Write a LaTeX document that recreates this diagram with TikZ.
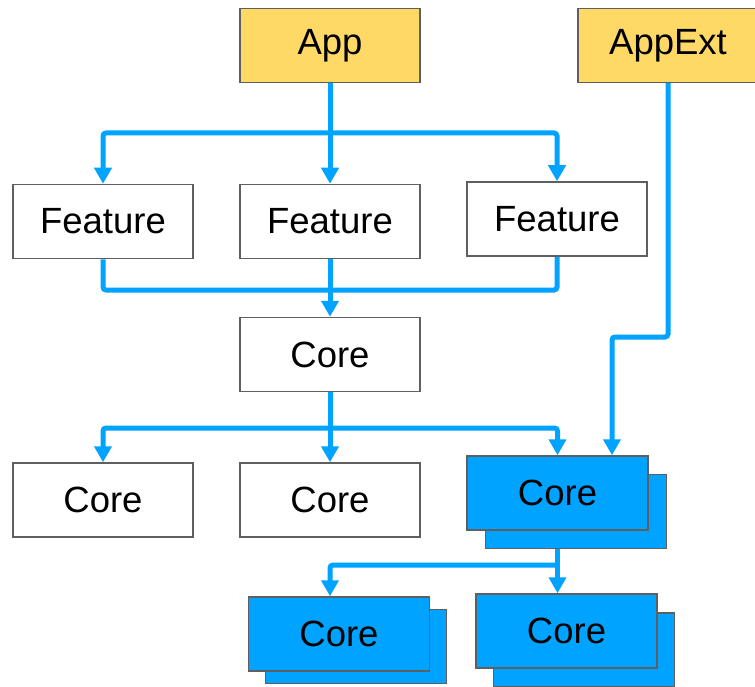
\documentclass[tikz,border=0pt]{standalone}
\usepackage{fontspec}
\setmainfont{Liberation Sans}
\usetikzlibrary{arrows.meta,backgrounds}
\definecolor{appyellow}{HTML}{FFD966}
\definecolor{linkblue}{HTML}{00A3FF}
\definecolor{edgegray}{HTML}{5F5F5F}
\tikzset{
  box/.style={draw=edgegray, line width=1.5pt, fill=white, minimum width=180pt,
    minimum height=74pt, inner sep=0pt, font=\fontsize{36.5}{40}\selectfont},
  appbox/.style={box, fill=appyellow},
  libbox/.style={box, fill=linkblue, minimum width=181pt},
  conn/.style={draw=linkblue, line width=5pt, rounded corners=3pt,
    -{Triangle[width=17pt,length=16pt]}},
  link/.style={draw=linkblue, line width=5pt, rounded corners=3pt}
}
\begin{document}
\begin{tikzpicture}[x=1pt,y=-1pt]
\useasboundingbox (0,0) rectangle (755,687);
\clip (0,0) rectangle (755,687);

% top level
\node[appbox] (app) at (330,45.5) {App};
\node[appbox] (appext) at (668,45.5) {AppExt};

% features
\node[box] (f1) at (103,221.5) {Feature};
\node[box] (f2) at (330,221.5) {Feature};
\node[box] (f3) at (557,219) {Feature};

% core
\node[box] (core) at (330,354.5) {Core};

% second level cores
\node[box] (cl) at (103,500) {Core};
\node[box] (cm) at (330,500) {Core};
\node[libbox] (ctback) at (576,511.5) {};
\node[libbox] (ct) at (557.5,493) {Core};

% bottom stacked cores
\node[libbox] (blback) at (356,646.5) {};
\node[libbox] (bl) at (339,634) {Core};
\node[libbox] (brback) at (584,650) {};
\node[libbox] (br) at (566.5,631) {Core};

% junction points
\coordinate (j1) at (330,133);
\coordinate (j2) at (330,290);
\coordinate (j3) at (330,428);
\coordinate (k1) at (612,337);
\coordinate (j4) at (557,565);
\coordinate (j5) at (330,565);

\begin{scope}[on background layer]
  \draw[conn] (app.south) -- (f2.north);
  \draw[conn] (j1) -| (f1.north);
  \draw[conn] (j1) -| (f3.north);

  \draw[link] (f1.south) |- (j2) -| (f3.south);
  \draw[conn] (f2.south) -- (core.north);

  \draw[conn] (core.south) -- (cm.north);
  \draw[conn] (j3) -| (cl.north);
  \draw[conn] (j3) -| (ct.north);

  \draw[conn] (appext.south) |- (k1) -- (k1 |- ct.north);

  \draw[conn] (ct.south) -- (ct.south |- br.north);
  \draw[conn] (j4) -- (j5) -- (j5 |- bl.north);
\end{scope}
\end{tikzpicture}
\end{document}
